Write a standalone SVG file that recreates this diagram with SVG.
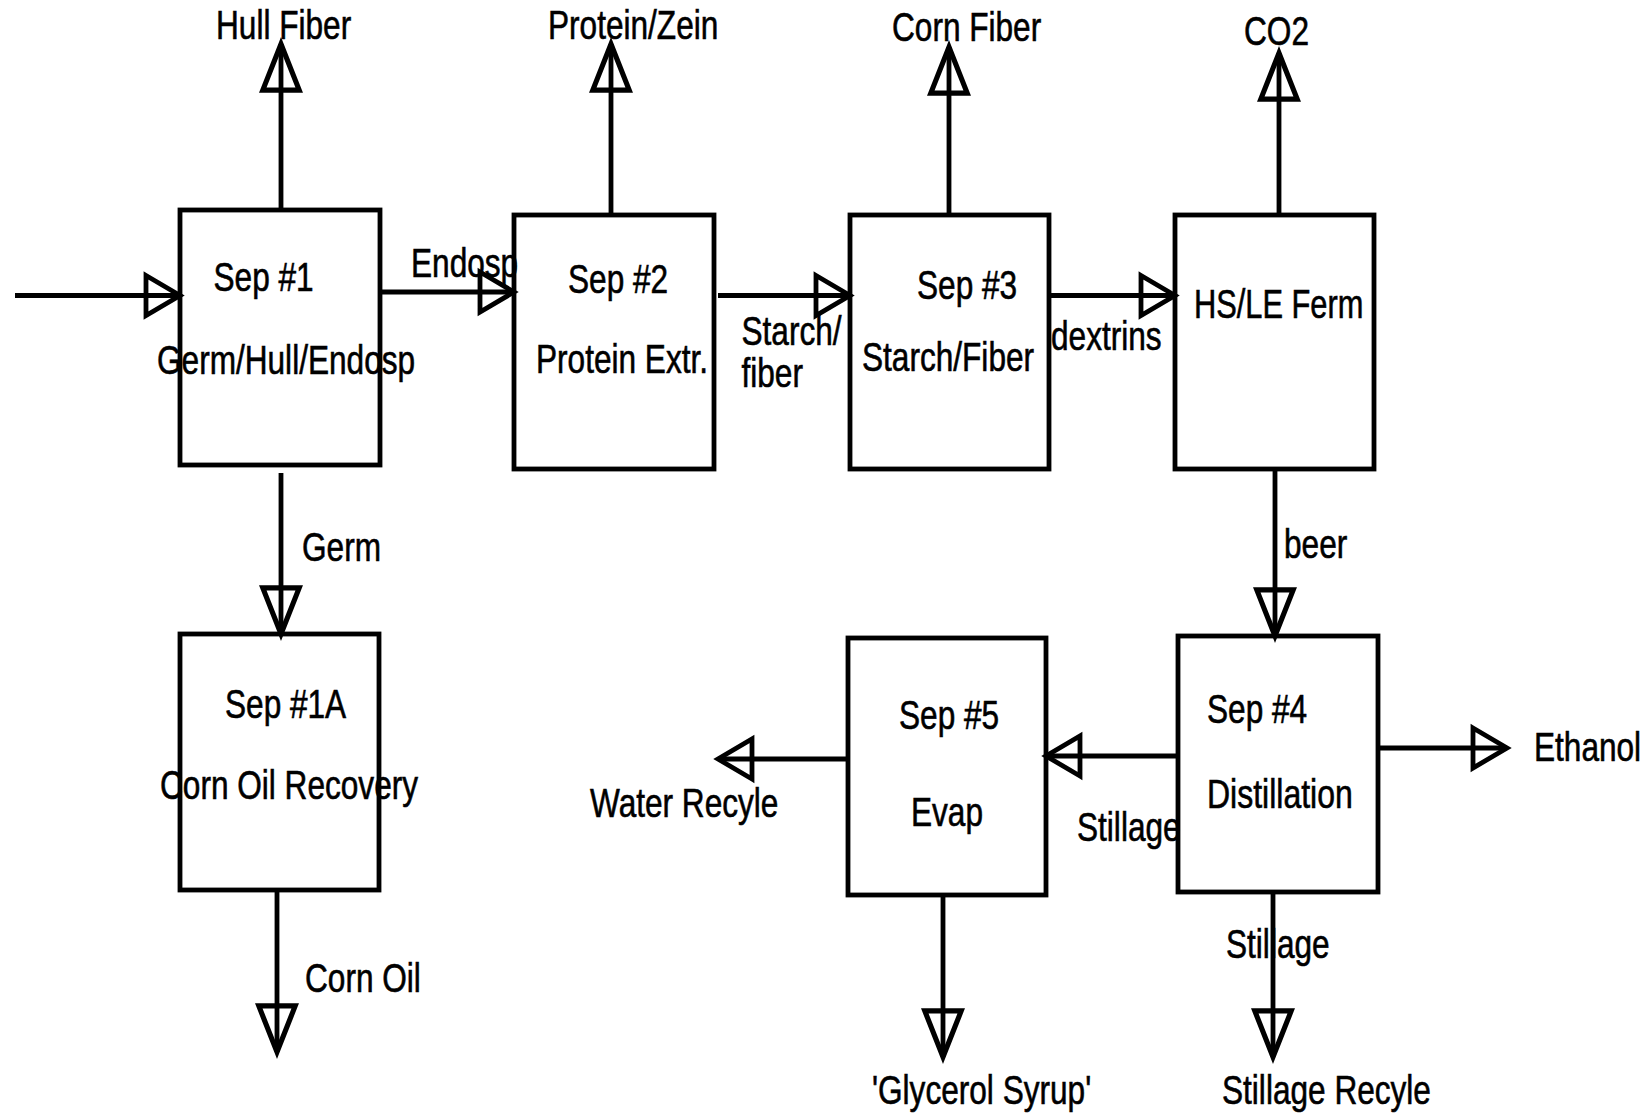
<svg xmlns="http://www.w3.org/2000/svg" width="1649" height="1114" viewBox="0 0 1649 1114">
<style>
  .box { fill: none; stroke: #000; stroke-width: 4.8; }
  .ln { fill: none; stroke: #000; stroke-width: 4.8; }
  .h { marker-end: url(#ah); }
  .v { marker-end: url(#av); }
  text { font-family: "Liberation Sans", Arial, sans-serif; font-size: 40px; fill: #000; stroke: #000; stroke-width: 0.6; }
</style>
<defs>
  <marker id="ah" markerUnits="userSpaceOnUse" markerWidth="60" markerHeight="60" viewBox="-40 -30 46 60" refX="0" refY="0" orient="auto" overflow="visible">
    <path d="M-34,-20 L0,0 L-34,20 Z" fill="none" stroke="#000" stroke-width="4.8" stroke-linejoin="miter"/>
  </marker>
  <marker id="av" markerUnits="userSpaceOnUse" markerWidth="60" markerHeight="60" viewBox="-50 -25 56 50" refX="0" refY="0" orient="auto" overflow="visible">
    <path d="M-43,-17 L0,0 L-43,17 Z" fill="none" stroke="#000" stroke-width="4.8" stroke-linejoin="miter"/>
  </marker>
</defs>
<rect width="1649" height="1114" fill="#fff"/>

<g id="connectors">
  <path class="ln h" d="M15,295.5 H180"/>
  <path class="ln v" d="M281,210 V44"/>
  <path class="ln h" d="M382,292 H514"/>
  <path class="ln v" d="M611,215 V44"/>
  <path class="ln h" d="M718,295.5 H850"/>
  <path class="ln v" d="M949,215 V47"/>
  <path class="ln h" d="M1049,295.5 H1175"/>
  <path class="ln v" d="M1279,215 V53"/>
  <path class="ln v" d="M281,473 V634"/>
  <path class="ln v" d="M277,890 V1052"/>
  <path class="ln v" d="M1275,469 V636"/>
  <path class="ln h" d="M1378,748 H1507"/>
  <path class="ln h" d="M1178,756 H1046"/>
  <path class="ln h" d="M848,759 H718"/>
  <path class="ln v" d="M943,895 V1057"/>
  <path class="ln v" d="M1273,892 V1057"/>
</g>

<g id="labels">
  <text transform="translate(216,39) scale(0.79,1)">Hull Fiber</text>
  <text transform="translate(548,39) scale(0.79,1)">Protein/Zein</text>
  <text transform="translate(892,41) scale(0.79,1)">Corn Fiber</text>
  <text transform="translate(1244,45) scale(0.79,1)">CO2</text>
  <text transform="translate(411,277) scale(0.79,1)">Endosp</text>
  <text transform="translate(741.5,345) scale(0.79,1)">Starch/</text>
  <text transform="translate(741.5,387) scale(0.79,1)">fiber</text>
  <text transform="translate(1051,350) scale(0.79,1)">dextrins</text>
  <text transform="translate(302,560.5) scale(0.79,1)">Germ</text>
  <text transform="translate(305,992) scale(0.79,1)">Corn Oil</text>
  <text transform="translate(1284,558) scale(0.79,1)">beer</text>
  <text transform="translate(1534,761) scale(0.79,1)">Ethanol</text>
  <text transform="translate(1077,841) scale(0.79,1)">Stillage</text>
  <text transform="translate(590,817) scale(0.79,1)">Water Recyle</text>
  <text transform="translate(1226,958) scale(0.79,1)">Stillage</text>
  <text transform="translate(872,1104) scale(0.79,1)">'Glycerol Syrup'</text>
  <text transform="translate(1222,1104) scale(0.79,1)">Stillage Recyle</text>
</g>

<g id="sep1">
  <rect class="box" x="180" y="210" width="200" height="255"/>
  <text transform="translate(213.5,291) scale(0.79,1)">Sep #1</text>
  <text transform="translate(157,374) scale(0.79,1)">Germ/Hull/Endosp</text>
</g>
<g id="sep2">
  <rect class="box" x="514" y="215" width="200" height="254"/>
  <text transform="translate(568,293) scale(0.79,1)">Sep #2</text>
  <text transform="translate(536,373) scale(0.79,1)">Protein Extr.</text>
</g>
<g id="sep3">
  <rect class="box" x="850" y="215" width="199" height="254"/>
  <text transform="translate(917,299) scale(0.79,1)">Sep #3</text>
  <text transform="translate(862,371) scale(0.79,1)">Starch/Fiber</text>
</g>
<g id="ferm">
  <rect class="box" x="1175" y="215" width="199" height="254"/>
  <text transform="translate(1194,318) scale(0.77,1)">HS/LE Ferm</text>
</g>
<g id="sep1a">
  <rect class="box" x="180" y="634" width="199" height="256"/>
  <text transform="translate(225,718) scale(0.79,1)">Sep #1A</text>
  <text transform="translate(160,799) scale(0.79,1)">Corn Oil Recovery</text>
</g>
<g id="sep5">
  <rect class="box" x="848" y="638" width="198" height="257"/>
  <text transform="translate(899,729) scale(0.79,1)">Sep #5</text>
  <text transform="translate(911,826) scale(0.79,1)">Evap</text>
</g>
<g id="sep4">
  <rect class="box" x="1178" y="636" width="200" height="256"/>
  <text transform="translate(1207,722.5) scale(0.79,1)">Sep #4</text>
  <text transform="translate(1207,808) scale(0.8,1)">Distillation</text>
</g>
</svg>
